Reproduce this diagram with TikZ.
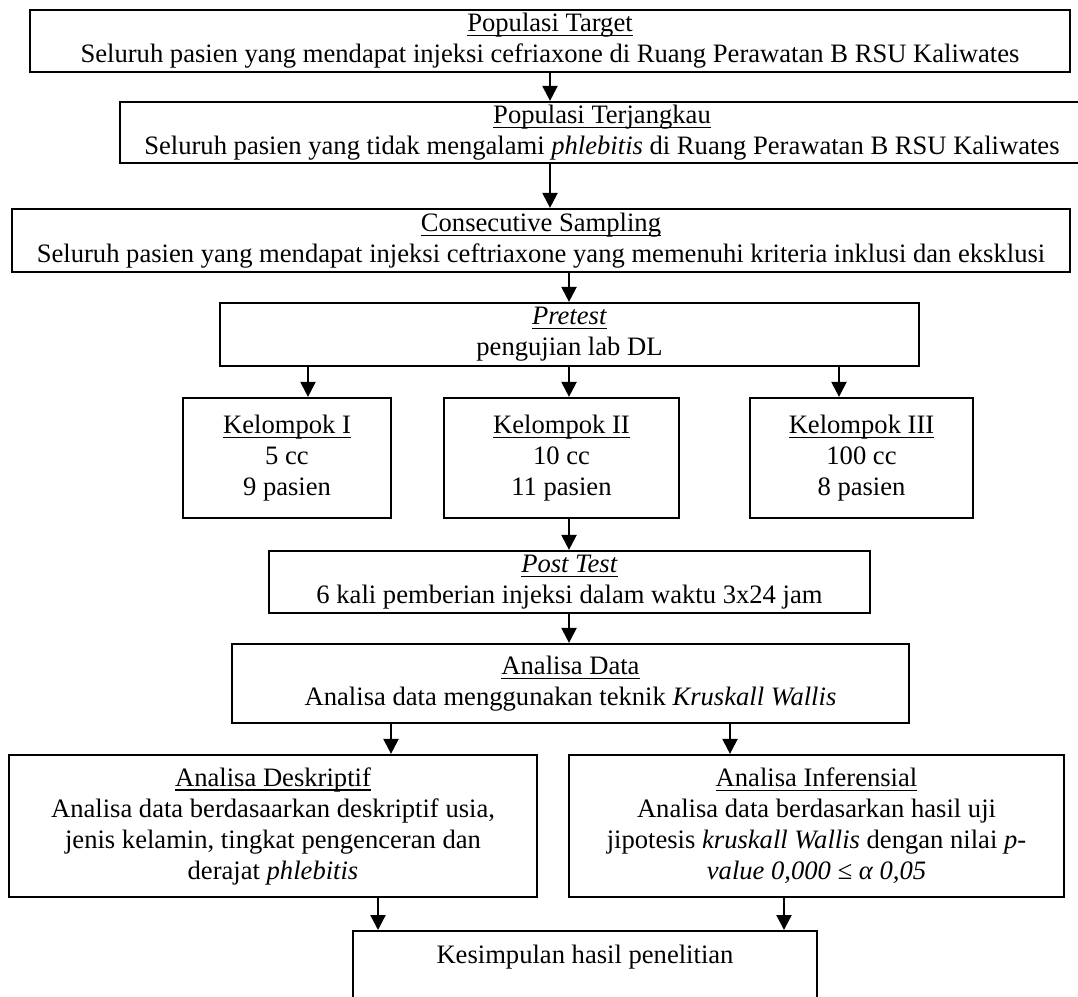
\documentclass[tikz,border=0pt]{standalone}
\usepackage{fontspec}
\setmainfont{Liberation Serif}
\usetikzlibrary{arrows.meta}

\newcommand{\uln}[1]{\setbox0\hbox{#1}\rlap{\rule[-4.5pt]{\wd0}{1.3pt}}\box0}

\begin{document}
\begin{tikzpicture}[
  x=1pt, y=-1pt,
  every node/.style = {font=\fontsize{26.6}{31}\selectfont},
  box/.style = {draw, line width=2.2pt, inner sep=0pt, align=center},
  flow/.style = {-{Triangle[length=15pt, width=15pt]}, line width=2.2pt},
]
\useasboundingbox[fill=white] (0,0) rectangle (1078,996);

%% ── Population and sampling ──────────────────────────────────────────────────
\node[box, minimum width=1040, minimum height=62] (Target) at (550, 41)
  {\uln{Populasi Target}\\
   Seluruh pasien yang mendapat injeksi cefriaxone di Ruang Perawatan B RSU Kaliwates};
\node[box, minimum width=964, minimum height=61] (Reach) at (602, 132.5)
  {\uln{Populasi Terjangkau}\\
   Seluruh pasien yang tidak mengalami \textit{phlebitis} di Ruang Perawatan B RSU Kaliwates};
\node[box, minimum width=1058, minimum height=63] (Sampling) at (541, 240.5)
  {\uln{Consecutive Sampling}\\
   Seluruh pasien yang mendapat injeksi ceftriaxone yang memenuhi kriteria inklusi dan eksklusi};

%% ── Pretest and groups ───────────────────────────────────────────────────────
\node[box, minimum width=699, minimum height=63] (Pre) at (569.5, 334.5)
  {\uln{\textit{Pretest}}\\pengujian lab DL};
\node[box, minimum width=208, minimum height=120] (K1) at (287, 458)
  {\uln{Kelompok I}\\5 cc\\9 pasien};
\node[box, minimum width=235, minimum height=120] (K2) at (561.5, 458)
  {\uln{Kelompok II}\\10 cc\\11 pasien};
\node[box, minimum width=223, minimum height=120] (K3) at (861.5, 458)
  {\uln{Kelompok III}\\100 cc\\8 pasien};

%% ── Post test and analysis ───────────────────────────────────────────────────
\node[box, minimum width=601, minimum height=62] (Post) at (569.5, 582)
  {\uln{\textit{Post Test}}\\6 kali pemberian injeksi dalam waktu 3x24 jam};
\node[box, minimum width=677, minimum height=79] (Data) at (570.5, 683.5)
  {\uln{Analisa Data}\\Analisa data menggunakan teknik \textit{Kruskall Wallis}};
\node[box, minimum width=528, minimum height=142] (Desc) at (273, 826)
  {\uln{Analisa Deskriptif}\\
   Analisa data berdasaarkan deskriptif usia,\\
   jenis kelamin, tingkat pengenceran dan\\
   derajat \textit{phlebitis}};
\node[box, minimum width=495, minimum height=142] (Infer) at (816.5, 826)
  {\uln{Analisa Inferensial}\\
   Analisa data berdasarkan hasil uji\\
   jipotesis \textit{kruskall Wallis} dengan nilai \textit{p-}\\
   \textit{value 0,000 ≤ α 0,05}};
\node[box, minimum width=464, anchor=north, inner ysep=14pt, text depth=50pt] (Concl)
  at (585, 930) {Kesimpulan hasil penelitian};

%% ── Arrow columns ────────────────────────────────────────────────────────────
\coordinate (xa) at (550, 0);
\coordinate (xb) at (569, 0);
\coordinate (xk1) at (308, 0);
\coordinate (xk3) at (839, 0);
\coordinate (xd) at (391, 0);
\coordinate (xi) at (730, 0);
\coordinate (xdc) at (378, 0);
\coordinate (xic) at (784, 0);

%% ── Connectors ───────────────────────────────────────────────────────────────
\draw[flow] (Target.south -| xa) -- (Reach.north -| xa);
\draw[flow] (Reach.south -| xa) -- (Sampling.north -| xa);
\draw[flow] (Sampling.south -| xb) -- (Pre.north -| xb);
\draw[flow] (Pre.south -| xk1) -- (K1.north -| xk1);
\draw[flow] (Pre.south -| xb) -- (K2.north -| xb);
\draw[flow] (Pre.south -| xk3) -- (K3.north -| xk3);
\draw[flow] (K2.south -| xb) -- (Post.north -| xb);
\draw[flow] (Post.south -| xb) -- (Data.north -| xb);
\draw[flow] (Data.south -| xd) -- (Desc.north -| xd);
\draw[flow] (Data.south -| xi) -- (Infer.north -| xi);
\draw[flow] (Desc.south -| xdc) -- (Concl.north -| xdc);
\draw[flow] (Infer.south -| xic) -- (Concl.north -| xic);

\end{tikzpicture}
\end{document}
